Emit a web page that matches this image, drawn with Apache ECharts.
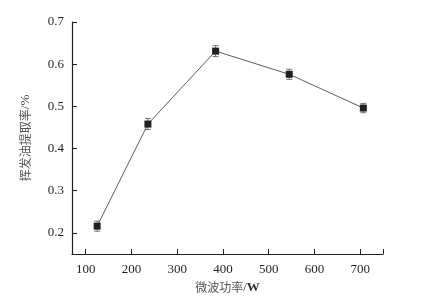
<!DOCTYPE html>
<html>
<head>
    <meta charset="UTF-8">
    <title>微波功率</title>
    <script src="https://cdn.jsdelivr.net/npm/echarts@6/dist/echarts.min.js"></script>
</head>
<body style="margin:0;background:#fff;">
    <div id="main" style="width:440px;height:299px;"></div>
    <script type="text/javascript">
        // 数据
        var power = [125, 236, 384, 545, 707];
        var rate = [0.216, 0.458, 0.631, 0.576, 0.496];
        var err = [0.012, 0.013, 0.013, 0.012, 0.011];
        var xTicks = [100, 200, 300, 400, 500, 600, 700];
        var yTicks = [0.2, 0.3, 0.4, 0.5, 0.6, 0.7];

        var points = power.map(function (p, i) { return [p, rate[i]]; });
        var bars = power.map(function (p, i) { return [p, rate[i] - err[i], rate[i] + err[i]]; });

        var serif = '"Liberation Serif", "Times New Roman", Times, serif';
        var cjk = '"Noto Sans CJK SC", sans-serif';
        var ink = '#231f20';

        // 轴标题：中文 + 西文单位
        var nameRich = {
            c: { fontFamily: cjk, fontSize: 12, color: '#555' },
            s: { fontFamily: serif, fontSize: 13, color: '#444' },
            b: { fontFamily: serif, fontSize: 13, color: '#333', fontWeight: 'bold' }
        };

        var myChart = echarts.init(document.getElementById('main'));
        myChart.setOption({
            animation: false,
            grid: { left: 72, right: 57, top: 22, bottom: 45 },
            xAxis: {
                type: 'value',
                min: 70,
                max: 750,
                name: '{c|微波功率}{s|/}{b|W}',
                nameLocation: 'middle',
                nameGap: 26,
                nameTextStyle: { rich: nameRich },
                axisLine: { lineStyle: { color: ink, width: 1.2 } },
                axisTick: { inside: true, length: 5, customValues: xTicks.concat([750]), lineStyle: { color: ink } },
                axisLabel: { customValues: xTicks, fontFamily: serif, fontSize: 13, color: ink, margin: 9 },
                splitLine: { show: false }
            },
            yAxis: {
                type: 'value',
                min: 0.15,
                max: 0.7,
                name: '{c|挥发油提取率}{s|/%}',
                nameLocation: 'middle',
                nameGap: 40,
                nameTextStyle: { rich: nameRich },
                axisLine: { show: true, lineStyle: { color: ink, width: 1.2 } },
                axisTick: { show: true, inside: true, length: 5, customValues: yTicks, lineStyle: { color: ink } },
                axisLabel: {
                    customValues: yTicks, fontFamily: serif, fontSize: 13, color: ink, margin: 8,
                    formatter: function (v) { return v.toFixed(1); }
                },
                splitLine: { show: false }
            },
            series: [{
                type: 'line',
                data: points,
                symbol: 'rect',
                symbolSize: 7,
                itemStyle: { color: ink },
                lineStyle: { color: '#333', width: 0.8 },
                z: 3
            }, {
                type: 'custom',
                data: bars,
                renderItem: function (params, api) {
                    var lo = api.coord([api.value(0), api.value(1)]);
                    var hi = api.coord([api.value(0), api.value(2)]);
                    var w = 3;
                    var style = { stroke: '#555', lineWidth: 0.8 };
                    return {
                        type: 'group',
                        children: [
                            { type: 'line', shape: { x1: lo[0], y1: lo[1], x2: hi[0], y2: hi[1] }, style: style },
                            { type: 'line', shape: { x1: lo[0] - w, y1: lo[1], x2: lo[0] + w, y2: lo[1] }, style: style },
                            { type: 'line', shape: { x1: hi[0] - w, y1: hi[1], x2: hi[0] + w, y2: hi[1] }, style: style }
                        ]
                    };
                },
                z: 2
            }]
        });
    </script>
</body>
</html>
